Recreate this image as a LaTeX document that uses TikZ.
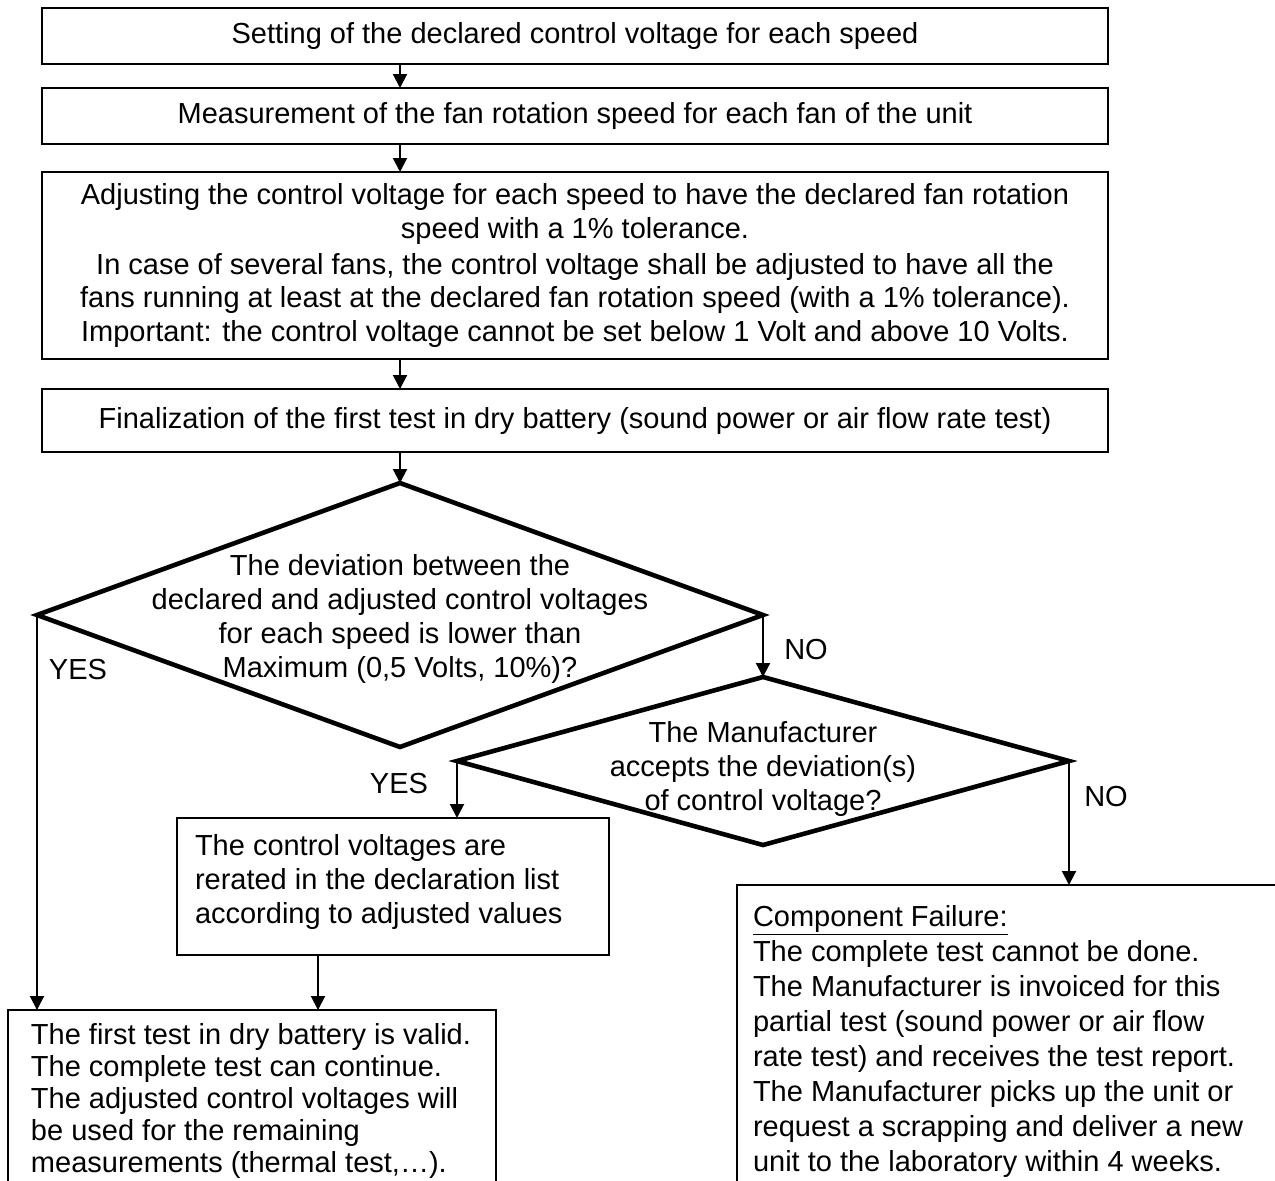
\documentclass[tikz,border=0pt]{standalone}
\usepackage{fontspec}
\setmainfont{Liberation Sans}
\usetikzlibrary{shapes.geometric,arrows.meta,calc}
\begin{document}
\begin{tikzpicture}[x=0.5pt,y=-0.5pt,
  box/.style={draw, line width=0.75pt, inner sep=0pt, outer sep=0pt, align=center,
    font=\fontsize{14.5pt}{16.9pt}\selectfont},
  dec/.style={draw, diamond, line width=2.3pt, inner sep=0pt, outer sep=0pt},
  txt/.style={inner sep=0pt, outer sep=0pt, font=\fontsize{14.5pt}{16.9pt}\selectfont},
  arr/.style={line width=1pt, -{Triangle[length=7pt,width=7pt]}}]
\clip (0,0) rectangle (1275,1180);
\fill[white] (0,0) rectangle (1275,1180);
% process boxes
\node[box, minimum width=533pt, minimum height=28pt] (b1) at (575,36)
  {Setting of the declared control voltage for each speed};
\node[box, minimum width=533pt, minimum height=28pt] (b2) at (575,116)
  {Measurement of the fan rotation speed for each fan of the unit};
\node[box, minimum width=533pt, minimum height=93.5pt] (b3) at (575,265.5)
  {Adjusting the control voltage for each speed to have the declared fan rotation\\
   speed with a 1\% tolerance.\\[1pt]
   In case of several fans, the control voltage shall be adjusted to have all the\\
   fans running at least at the declared fan rotation speed (with a 1\% tolerance).\\
   Important: the control voltage cannot be set below 1 Volt and above 10 Volts.};
\node[box, minimum width=533pt, minimum height=31.5pt] (b4) at (575,420.5)
  {Finalization of the first test in dry battery (sound power or air flow rate test)};
% decisions
\node[dec, minimum width=363pt, minimum height=132pt] (d1) at (400,615) {};
\node[txt, align=center] (d1t) at ([yshift=-2pt]d1.center)
  {The deviation between the\\ declared and adjusted control voltages\\ for each speed is lower than\\ Maximum (0,5 Volts, 10\%)?};
\node[dec, minimum width=306pt, minimum height=84pt] (d2) at (763,761) {};
\node[txt, align=center] (d2t) at ([yshift=-4pt]d2.center)
  {The Manufacturer\\ accepts the deviation(s)\\ of control voltage?};
% result boxes
\node[box, minimum width=216pt, minimum height=68.5pt] (b5) at (393,886.5) {};
\node[txt, anchor=north west] (t5) at (195,832)
  {\begin{tabular}{@{}l@{}}The control voltages are\\ rerated in the declaration list\\ according to adjusted values\end{tabular}};
\node[box, minimum width=244pt, minimum height=99pt] (b6) at (252,1109) {};
\node[txt, anchor=north west, font=\fontsize{14.5pt}{16pt}\selectfont] (t6) at (31,1021.6)
  {\begin{tabular}{@{}l@{}}The first test in dry battery is valid.\\ The complete test can continue.\\ The adjusted control voltages will\\ be used for the remaining\\ measurements (thermal test,…).\end{tabular}};
\node[box, minimum width=281.5pt, minimum height=160pt] (b7) at (1018.5,1045) {};
\node[txt, anchor=north west, font=\fontsize{14.5pt}{17.5pt}\selectfont] (t7) at (753,901.5)
  {\begin{tabular}{@{}l@{}}\underline{Component Failure:}\\ The complete test cannot be done.\\ The Manufacturer is invoiced for this\\ partial test (sound power or air flow\\ rate test) and receives the test report.\\ The Manufacturer picks up the unit or\\ request a scrapping and deliver a new\\ unit to the laboratory within 4 weeks.\end{tabular}};
% connectors
\draw[arr] (b1.south -| d1.north) -- (b2.north -| d1.north);
\draw[arr] (b2.south -| d1.north) -- (b3.north -| d1.north);
\draw[arr] (b3.south -| d1.north) -- (b4.north -| d1.north);
\draw[arr] (b4.south -| d1.north) -- (d1.north);
\draw[arr] (d1.west) -- (d1.west |- b6.north);
\draw[arr] (d1.east) -- (d1.east |- d2.north);
\draw[arr] (d2.west) -- (d2.west |- b5.north);
\draw[arr] (d2.east) -- (d2.east |- b7.north);
\draw[arr] ([xshift=-37.5pt]b5.south) -- ([xshift=-37.5pt]b5.south |- b6.north);
% labels
\node[txt] (y1) at (78,670) {YES};
\node[txt] (y2) at (399,784) {YES};
\node[txt] (n1) at (806,650) {NO};
\node[txt] (n2) at (1106,797) {NO};
\end{tikzpicture}
\end{document}
